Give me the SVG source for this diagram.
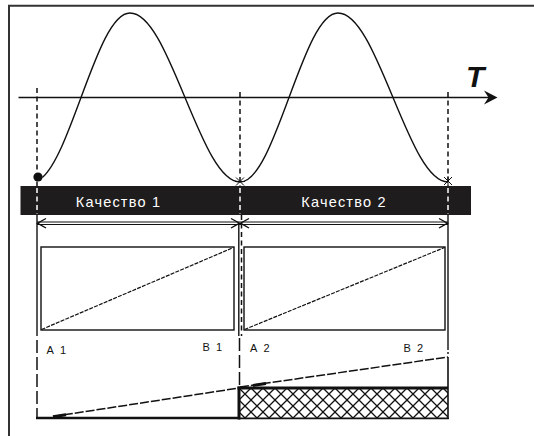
<svg xmlns="http://www.w3.org/2000/svg" width="534" height="436" viewBox="0 0 534 436">
<style>
.ln{stroke:#111;fill:none;stroke-width:1.4}
.thin{stroke:#111;fill:none;stroke-width:1}
.dash{stroke:#111;fill:none;stroke-width:1.5;stroke-dasharray:5 3.5}
.wdash{stroke:#fff;fill:none;stroke-width:1.5;stroke-dasharray:5 3.5}
.ldash{stroke:#111;fill:none;stroke-width:1.5;stroke-dasharray:13 4}
.slope{stroke:#111;fill:none;stroke-width:1.5;stroke-dasharray:9 2}
.diag{stroke:#111;fill:none;stroke-width:1.2;stroke-dasharray:4 1.2}
.thick{stroke:#111;fill:none;stroke-width:3}
.bar{font-family:"Liberation Sans",Arial,sans-serif;font-size:14.5px;fill:#fff;letter-spacing:1.2px}
.lbl{font-family:"Liberation Sans",Arial,sans-serif;font-size:11px;fill:#111;letter-spacing:1.5px}
</style>
<defs>
<pattern id="hatch" width="12" height="12" patternUnits="userSpaceOnUse" x="239" y="388">
<rect width="12" height="12" fill="#fff"/>
<path d="M0,0L12,12M0,12L12,0" stroke="#111" stroke-width="1.3"/>
</pattern>
</defs>
<rect width="534" height="436" fill="#fff"/>
<g id="frame">
<path d="M9,436V5.8H534" stroke="#333" stroke-width="2" fill="none"/>
</g>
<g id="axis">
<line class="ln" x1="18.5" y1="97.5" x2="490" y2="97.5"/>
<polygon points="497.5,97.5 484,90.5 488.5,97.5 484,104.5" fill="#111"/>
<text x="466" y="87" font-family="Liberation Sans,Arial,sans-serif" font-size="30" font-weight="bold" font-style="italic" fill="#111">T</text>
</g>
<g id="curve">
<path class="ln" stroke-width="1.2" d="M42.3,177.5 C55.7,165.8 67.9,133 81,97.5 C97.4,53.1 112.4,13 130,13 C149.8,13 166.6,53.1 185,97.5 C203.4,141.9 220.2,182 240,182 C257.6,182 272.6,141.9 289,97.5 C305.4,53.1 320.4,13 338,13 C357.8,13 374.6,53.1 393,97.5 C411.4,141.9 428.2,182 448,182"/>
<circle cx="38" cy="177" r="4.6" fill="#111"/>
<path class="thin" d="M236,177.5L244,185.5M236,185.5L244,177.5M235,181.5H245"/>
<path class="thin" d="M444,177L452,185M444,185L452,177M448,176V186"/>
</g>
<g id="bar">
<rect x="20.5" y="186" width="450.5" height="29" fill="#1e1c1c"/>
<text class="bar" x="118.5" y="207.3" text-anchor="middle">Качество 1</text>
<text class="bar" x="344" y="207.3" text-anchor="middle">Качество 2</text>
</g>
<g id="connectors">
<line class="dash" x1="37" y1="88" x2="37" y2="186"/>
<line class="wdash" x1="37" y1="188" x2="37" y2="214"/>
<line class="ln" x1="37" y1="215" x2="37" y2="222"/>
<line class="dash" x1="240" y1="92" x2="240" y2="186"/>
<line class="wdash" x1="240" y1="188" x2="240" y2="214"/>
<line class="dash" x1="448" y1="92" x2="448" y2="186"/>
<line class="wdash" x1="448" y1="188" x2="448" y2="214"/>
<line class="ln" x1="448" y1="215" x2="448" y2="222"/>
<line class="thin" x1="37" y1="222" x2="448" y2="222"/>
<line class="thin" x1="37" y1="224.5" x2="448" y2="224.5"/>
<path class="ln" d="M46,218.5L37.5,223.2L46,228M231,218.5L239.5,223.2L231,228M249,218.5L240.5,223.2L249,228M439,218.5L447.5,223.2L439,228"/>
<line class="ln" x1="37" y1="222" x2="37" y2="336"/>
<line class="ldash" x1="37" y1="340" x2="37" y2="418"/>
<line class="ln" x1="238.8" y1="224" x2="238.8" y2="336"/>
<line class="dash" x1="241.5" y1="215" x2="241.5" y2="336"/>
<line class="ldash" x1="239.5" y1="338" x2="239.5" y2="388"/>
<line class="ln" x1="448" y1="222" x2="448" y2="350"/>
<line class="ln" x1="448" y1="352" x2="448" y2="354"/>
</g>
<g id="quality1">
<rect class="ln" x="41" y="247" width="193" height="83" stroke-width="1.9"/>
<line class="diag" x1="41.5" y1="329.5" x2="233.5" y2="247.5"/>
<text class="lbl" x="46.5" y="354.3">А 1</text>
<text class="lbl" x="202.5" y="351">В 1</text>
</g>
<g id="quality2">
<rect class="ln" x="244" y="247" width="201" height="83" stroke-width="1.9"/>
<line class="diag" x1="244.5" y1="329.5" x2="444.5" y2="247.5"/>
<text class="lbl" x="250" y="352">А 2</text>
<text class="lbl" x="403.5" y="352">В 2</text>
</g>
<g id="level1">
<line x1="36" y1="418" x2="240" y2="418" stroke="#111" stroke-width="2.5"/>
<line class="slope" x1="53" y1="416.5" x2="239" y2="388"/>
<line x1="53" y1="416.8" x2="66" y2="414.8" stroke="#111" stroke-width="3"/>
</g>
<g id="level2">
<rect x="239" y="388" width="209" height="30" fill="url(#hatch)"/>
<line class="thick" x1="237.5" y1="388" x2="448" y2="388"/>
<line class="thick" x1="239" y1="386.5" x2="239" y2="419.5"/>
<line x1="239" y1="418.3" x2="448.8" y2="418.3" stroke="#111" stroke-width="1.8"/>
<line x1="448" y1="357" x2="448" y2="419" stroke="#111" stroke-width="1.6"/>
<line class="slope" x1="240" y1="387" x2="448" y2="357"/>
<line x1="253" y1="385.5" x2="266" y2="383.6" stroke="#111" stroke-width="3"/>
</g>
</svg>
